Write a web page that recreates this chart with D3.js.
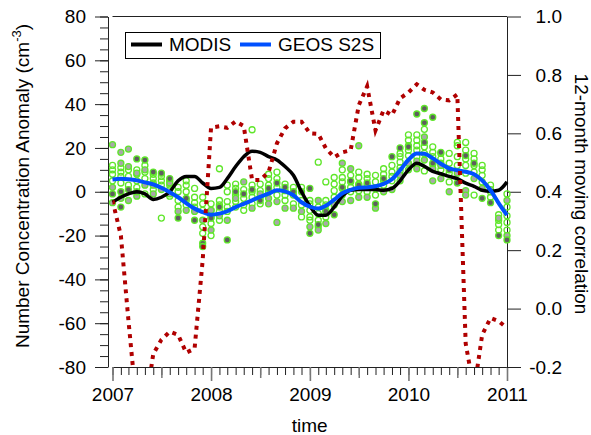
<!DOCTYPE html>
<html>
<head>
<meta charset="utf-8">
<script src="https://cdn.jsdelivr.net/npm/d3@7"></script>
<style>
body { margin: 0; background: #fff; }
text { font-family: "Liberation Sans", Arial, Helvetica, sans-serif; }
</style>
</head>
<body>
<div id="chart"></div>
<script>
// monthly anomalies, Jan 2007 .. Jan 2011
var modis = [-4.8, -2.5, -1, 0, -1, -3.5, -2.5, 0, 5, 7, 7, 4,
    1.5, 2, 6, 11.5, 16, 18.5, 18, 16, 14.5, 11.5, 7.5, 0,
    -6.5, -10.7, -10.7, -7, -2, 0.7, 1, 1, 1, 0.7, 1.5, 5,
    10, 13, 11.6, 9.3, 8.2, 7, 6, 3.9, 2.5, 0.7, 0.2, 0.7, 4.5];
var geos = [5.6, 5.9, 5.7, 5.2, 4.3, 3.4, 1.8, -0.2, -2.5, -5.2, -7.7, -9.3,
    -10.5, -10, -8.9, -7, -5.5, -3.9, -2.3, -0.9, 0.7, 0.2, -1.6, -4.8,
    -6.8, -7.7, -6.4, -3.6, -0.7, 0.9, 1.8, 2, 2.5, 3.6, 5.7, 9.8,
    14.6, 17.5, 17.3, 15.3, 12.8, 10.7, 9.8, 9.1, 8, 5.2, 0.7, -5.2, -10.7];
// 12-month moving correlation (right axis)
var corr = [0.37, 0.25, -0.04, -0.34, -0.35, -0.155, -0.107, -0.079, -0.09, -0.151, -0.137, 0.166,
    0.62, 0.624, 0.619, 0.641, 0.625, 0.44, 0.44, 0.467, 0.566, 0.617, 0.64, 0.64,
    0.60, 0.598, 0.549, 0.518, 0.535, 0.542, 0.696, 0.761, 0.61, 0.679, 0.662, 0.72,
    0.74, 0.768, 0.749, 0.74, 0.716, 0.713, 0.733, -0.12, -0.28, -0.09, -0.032, -0.043, -0.067];

// ensemble members per month: open, light-filled and dark-filled markers
var ensOpen = [
    [12, 10, 8, 5], [11, 9, 7, 4], [10, 7, 3], [10, 8, 5, 2], [12, 9, 6, -1],
    [8, 6, 4, 1], [7, 5, 3, -12], [5, 3, 1, -2], [2, 0, -4, -7], [5, 3, 0, -4, -6],
    [1.5, -2.5, -5, -7], [-2.5, -5.5, -8.5, -16, -19], [-5.5, -8.5, -11.5, -14.5, -20], [10.5, -4, -6, -9, -13], [3, 0, -4.5, -7, -9],
    [3.5, 1.5, -1.5, -4.5, -7], [1, -3, -6, -8.5], [28.3, 3, 0, -2.5, -5.5], [3.5, 0.5, -2.5, -5.5], [8, 6, 3, 0],
    [9, 6, 2, -1.5], [3.5, 0.5, -1.5, -4], [2, -1.5, -5.5], [2, -4, -6, -11.5], [-4, -5.5, -8.5, -11.5, -13],
    [13.5, -7, -10, -13, -16], [4.5, -4, -6, -8.5, -11.5], [6.5, 3.5, 0.5, -2.5], [10, 6.5, 4.5, 1.5, -1.5], [7.5, 4.5, 2, 0],
    [9, 6.5, 3.5, 0.5], [8, 6, 3, 0], [7.5, 4.5, 1.5, -1.5], [10.5, 8, 5, 3], [12, 9, 7, 5],
    [17.5, 16, 13.5, 11, 9.5], [26, 23.5, 21, 19, 16.5], [26, 23.5, 21, 19, 16], [28.5, 20.5, 17.5, 9.5], [20.5, 18, 16, 12.5],
    [17.5, 15, 13, 10], [17.5, 13, 8.5, 4.5], [22.5, 21, 16, 12], [22.5, 19, 15, 12, 8.5], [17.5, 15, 12, 9, -1.5],
    [12, 10, 7.5, 4.5], [3, 0, -2.5], [-10.5, -13, -15, -17.5], [-1, -7, -11, -14, -17.5]
];
var ensLight = [
    [21.5, 2, -5], [18, 13, -3], [19.5, 11.5, -4], [8.5, -2], [10, 3],
    [3, -1], [1], [-1, 4], [-9], [-8.5],
    [-9], [-13], [-8.5, -17.5], [-11], [-13],
    [-3], [4.5], [-7.5], [-1], [-3, -5.5],
    [-4.5, -14], [-7.5], [-7.5], [-9], [-16],
    [-4, -17.5], [-14.5], [-6], [13, -4.5], [10.5, -4],
    [21, -2.5], [-2.5], [-7.5], [0], [1],
    [7.5, 5], [13, 10], [10.5, 14], [14.5, 25], [10.5, 5],
    [6, 12], [0], [8.5], [0.5, -1.5], [6],
    [1.5], [1], [-12], [-20, -4]
];
var ensDark = [
    [-1], [0, -7], [1], [15, 0], [14.5],
    [9], [8.5], [6], [-12], [-3],
    [-13], [-23.5, -25], [-12], [-7], [-22],
    [0], [-1], [1], [-4], [1.5],
    [4], [2], [0], [0], [1.5, -19],
    [-15], [-9], [-10.5], [2], [5],
    [3], [4], [-5.5], [6], [16],
    [20], [20.5], [35.5], [38, 31.5, 22.5], [34, 13],
    [18], [10], [4], [16.5], [13],
    [-3], [-5], [-20], [-22]
];

var yearTicks = [2007, 2008, 2009, 2010, 2011];
var leftTicks = [-80, -60, -40, -20, 0, 20, 40, 60, 80];
var rightTicks = [-0.2, 0.0, 0.2, 0.4, 0.6, 0.8, 1.0];

var width = 591, height = 435;
var plot = { left: 112.5, right: 507, top: 16.5, bottom: 367 };
var fontSize = 19;

var months = modis.map(function(d, i) { return new Date(Date.UTC(2007, i, 1)); });

var x = d3.scaleUtc()
    .domain([new Date(Date.UTC(2007, 0, 1)), new Date(Date.UTC(2011, 0, 1))])
    .range([plot.left, plot.right]);
var y = d3.scaleLinear().domain([-80, 80]).range([plot.bottom, plot.top]);
var yR = d3.scaleLinear().domain([-0.2, 1.0]).range([plot.bottom, plot.top]);

var svg = d3.select("#chart").append("svg")
    .attr("width", width)
    .attr("height", height);

svg.append("defs").append("clipPath").attr("id", "clip")
    .append("rect")
    .attr("x", plot.left).attr("y", plot.top)
    .attr("width", plot.right - plot.left)
    .attr("height", plot.bottom - plot.top);

function styleAxis(g) {
    g.attr("font-size", fontSize)
        .attr("font-family", "'Liberation Sans', Arial, Helvetica, sans-serif");
    g.selectAll("line, path").attr("stroke", "#222");
}

// bottom axis: monthly, half-year and yearly ticks
svg.append("g")
    .attr("transform", "translate(0," + plot.bottom + ")")
    .call(d3.axisBottom(x).ticks(d3.utcMonth.every(1)).tickSize(8).tickSizeOuter(0).tickFormat(""))
    .call(styleAxis);
svg.append("g")
    .attr("transform", "translate(0," + plot.bottom + ")")
    .call(d3.axisBottom(x).tickValues(yearTicks.slice(0, 4).map(function(yr) { return new Date(Date.UTC(yr, 6, 1)); }))
        .tickSize(11).tickFormat(""))
    .call(styleAxis)
    .call(function(g) { g.select(".domain").remove(); g.selectAll("line").attr("stroke", "#777").attr("stroke-width", 1.5); });
svg.append("g")
    .attr("transform", "translate(0," + plot.bottom + ")")
    .call(d3.axisBottom(x).tickValues(yearTicks.map(function(yr) { return new Date(Date.UTC(yr, 0, 1)); }))
        .tickSize(14).tickPadding(7).tickFormat(d3.utcFormat("%Y")))
    .call(styleAxis)
    .call(function(g) {
        g.select(".domain").remove();
        g.selectAll("line").attr("stroke", "#777").attr("stroke-width", 1.6);
        g.selectAll("text").attr("fill", "#000");
    });

// top frame
svg.append("line")
    .attr("x1", plot.left).attr("x2", plot.right)
    .attr("y1", plot.top).attr("y2", plot.top)
    .attr("stroke", "#222");

// left axis, set off from the frame
var leftX = 108;
svg.append("g")
    .attr("transform", "translate(" + leftX + ",0)")
    .call(d3.axisLeft(y).ticks(32).tickSize(8).tickSizeOuter(0).tickFormat(""))
    .call(styleAxis);
svg.append("g")
    .attr("transform", "translate(" + leftX + ",0)")
    .call(d3.axisLeft(y).tickValues(leftTicks).tickSize(13).tickPadding(9)
        .tickFormat(function(d) { return String(d); }))
    .call(styleAxis)
    .call(function(g) { g.select(".domain").remove(); g.selectAll("text").attr("fill", "#000"); });

// right axis
svg.append("g")
    .attr("transform", "translate(" + plot.right + ",0)")
    .call(d3.axisRight(yR).tickValues(rightTicks).tickSize(14).tickSizeOuter(0)
        .tickFormat(function(d) { return d.toFixed(1); }))
    .call(styleAxis)
    .call(function(g) {
        g.selectAll("text").attr("fill", "#000").attr("text-anchor", "end").attr("x", 55);
    });

// ensemble markers
var green = "#5fe62a";
function drawMembers(list, fill) {
    var pts = [];
    list.forEach(function(vals, i) {
        vals.forEach(function(v) { pts.push({ t: months[i], v: v }); });
    });
    svg.append("g").selectAll("circle")
        .data(pts)
        .enter().append("circle")
        .attr("cx", function(d) { return x(d.t); })
        .attr("cy", function(d) { return y(d.v); })
        .attr("r", 3)
        .attr("fill", fill)
        .attr("stroke", green)
        .attr("stroke-width", 1.3);
}
drawMembers(ensOpen, "none");
drawMembers(ensLight, "#a8a8a8");
drawMembers(ensDark, "#5e5e5e");

var anomLine = d3.line()
    .x(function(d, i) { return x(months[i]); })
    .y(function(d) { return y(d); })
    .curve(d3.curveMonotoneX);

svg.append("path")
    .datum(modis)
    .attr("fill", "none")
    .attr("stroke", "#000")
    .attr("stroke-width", 3.5)
    .attr("d", anomLine);

svg.append("path")
    .datum(geos)
    .attr("fill", "none")
    .attr("stroke", "#0050ff")
    .attr("stroke-width", 4)
    .attr("d", anomLine);

var corrLine = d3.line()
    .x(function(d, i) { return x(months[i]); })
    .y(function(d) { return yR(d); });

svg.append("path")
    .datum(corr)
    .attr("clip-path", "url(#clip)")
    .attr("fill", "none")
    .attr("stroke", "#b00000")
    .attr("stroke-width", 4)
    .attr("stroke-dasharray", "4,5")
    .attr("d", corrLine);

// legend
var legend = svg.append("g");
legend.append("rect")
    .attr("x", 125.5).attr("y", 32.5)
    .attr("width", 255).attr("height", 26)
    .attr("fill", "#fff").attr("stroke", "#000");
var items = [
    { name: "MODIS", color: "#000", x: 131 },
    { name: "GEOS S2S", color: "#0050ff", x: 240 }
];
items.forEach(function(it) {
    legend.append("line")
        .attr("x1", it.x).attr("x2", it.x + 31)
        .attr("y1", 44.5).attr("y2", 44.5)
        .attr("stroke", it.color).attr("stroke-width", 4);
    legend.append("text")
        .attr("x", it.x + 38).attr("y", 51)
        .attr("font-size", fontSize)
        .text(it.name);
});

// axis titles
var lt = svg.append("text")
    .attr("transform", "translate(29,186) rotate(-90)")
    .attr("text-anchor", "middle")
    .attr("font-size", fontSize);
lt.append("tspan").text("Number Concentration Anomaly (cm");
lt.append("tspan").attr("font-size", 13).attr("dy", -8).text("-3");
lt.append("tspan").attr("dy", 8).text(")");

svg.append("text")
    .attr("transform", "translate(575,194) rotate(90)")
    .attr("text-anchor", "middle")
    .attr("font-size", fontSize)
    .text("12-month moving correlation");

svg.append("text")
    .attr("x", (plot.left + plot.right) / 2)
    .attr("y", 432)
    .attr("text-anchor", "middle")
    .attr("font-size", fontSize)
    .text("time");
</script>
</body>
</html>
